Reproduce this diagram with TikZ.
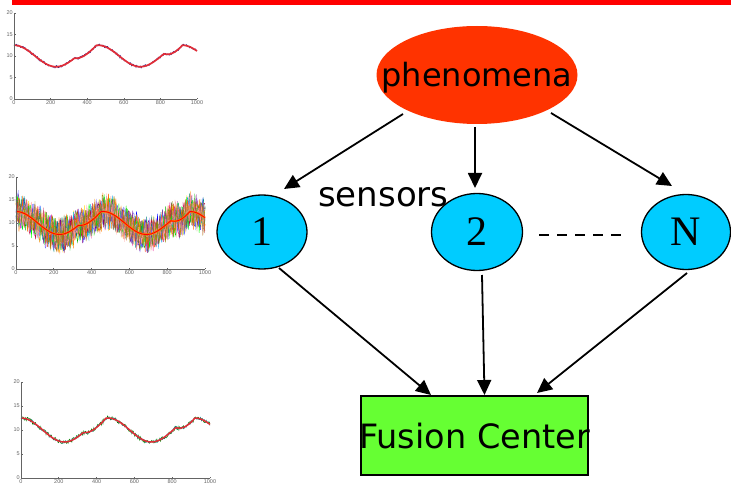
\documentclass[tikz,border=0pt]{standalone}
\usepackage{fontspec}
\setmainfont{Liberation Serif}
\newfontfamily\comicf{DejaVu Sans}
\newfontfamily\tickf{Liberation Sans}
\usetikzlibrary{shapes.geometric,arrows.meta}
\definecolor{phenred}{HTML}{FF3300}
\definecolor{sensorcyan}{HTML}{00CCFF}
\definecolor{fusiongreen}{HTML}{66FF33}
\definecolor{barred}{HTML}{FF0000}
\definecolor{curvered}{RGB}{225,45,55}
\definecolor{axgray}{RGB}{100,100,100}
\newcommand\plotframe[6]{%
  \begin{scope}[shift={(#1,#2)},x=#3pt,y=#4pt]
    #6
    \draw[ax] (0,20) -- (0,0) -- (1000,0);
    \foreach \v in {0,5,10,15,20}{\draw[ax] (0,\v) -- (12,\v); \node[tk,left] (#5y\v) at (0,\v) {\v};}
    \foreach \t in {0,200,400,600,800,1000}{\draw[ax] (\t,0) -- (\t,0.3); \node[tk,below] (#5x\t) at (\t,0) {\t};}
  \end{scope}}
\begin{document}
\begin{tikzpicture}[x=1pt,y=-1pt,
  arr/.style={line width=1.8pt,-{Triangle[length=15pt,width=14pt]}},
  sensor/.style={ellipse,draw=black,line width=1.3pt,fill=sensorcyan,inner sep=0pt,
    font=\fontsize{42}{44}\selectfont,text height=28pt,text depth=0pt},
  phenbox/.style={ellipse,fill=phenred,minimum width=201pt,minimum height=98pt,inner sep=0pt,
    font=\comicf\fontsize{32}{36}\selectfont,text height=24pt,text depth=0pt},
  fusionbox/.style={rectangle,draw=black,line width=1.3pt,fill=fusiongreen,minimum width=227pt,
    minimum height=79pt,inner sep=0pt,font=\comicf\fontsize{33.5}{36}\selectfont,text height=25pt,text depth=0pt},
  ax/.style={axgray,line width=0.6pt},
  tk/.style={font=\tickf\fontsize{5.5}{6}\selectfont,text=axgray,inner sep=1pt},
  declare function={fb(\t)=10+2.5*cos(0.78261*\t)-1.2*max(0,1-((\t-390)/60)^2)-1.2*max(0,1-((\t-870)/50)^2);}
]
\useasboundingbox (0,0) rectangle (731,489);
\fill[barred] (12,0) rectangle (731,5);
\pgfmathsetseed{7}
% plot 1
\plotframe{14}{99}{0.183}{4.3}{pa}{%
  \draw[blue!50!black,line width=0.5pt] plot[domain=0:1000,samples=250] (\x,{fb(\x)+0.3*rand});
  \draw[curvered,line width=1.7pt] plot[domain=0:1000,samples=150,smooth] (\x,{fb(\x)});
}
% plot 2
\plotframe{16}{269}{0.189}{4.6}{pb}{%
  \foreach \c in {blue,green!70!black,magenta,yellow!80!orange,cyan,violet,orange,teal,purple,green,blue!60!white,red!60!yellow,olive,pink!80!red}{
    \draw[color=\c,line width=0.3pt] plot[domain=0:1000,samples=260] (\x,{fb(\x)+3.3*rand+1.2*rand});
  }
  \draw[orange,line width=2pt] plot[domain=0:1000,samples=150,smooth] (\x,{fb(\x)});
  \draw[red,line width=0.9pt] plot[domain=0:1000,samples=150,smooth] (\x,{fb(\x)});
}
% plot 3
\plotframe{21}{478}{0.189}{4.8}{pc}{%
  \draw[green!50!black,line width=0.5pt] plot[domain=0:1000,samples=250] (\x,{fb(\x)+0.45*rand});
  \draw[teal,line width=0.4pt] plot[domain=0:1000,samples=200] (\x,{fb(\x)+0.35*rand});
  \draw[curvered,line width=1.5pt] plot[domain=0:1000,samples=150,smooth] (\x,{fb(\x)});
}
% diagram
\node[phenbox] (phen) at (477,75) {\makebox[0pt]{phenomena}};
\node[sensor,minimum width=90pt,minimum height=74pt] (s1) at (262,232) {1};
\node[sensor,minimum width=91pt,minimum height=77pt] (s2) at (477,232) {2};
\node[sensor,minimum width=89pt,minimum height=75pt] (sN) at (686,232) {N};
\node[fusionbox] (fc) at (474.5,435.5) {\makebox[0pt]{Fusion Center}};
\node[anchor=base west,font=\comicf\fontsize{34}{36}\selectfont,inner sep=0pt] (lbl) at (318,207) {sensors};
\draw[arr] ([shift={(-74,39)}]phen.center) -- ([shift={(22,-43)}]s1.center);
\draw[arr] ([shift={(-2,52)}]phen.center) -- ([shift={(-2,-44)}]s2.center);
\draw[arr] ([shift={(74,38)}]phen.center) -- ([shift={(-14,-46)}]sN.center);
\draw[arr] ([shift={(17,36)}]s1.center) -- ([shift={(-43.5,-40.5)}]fc.center);
\draw[arr] ([shift={(5,43)}]s2.center) -- ([shift={(10,-40.5)}]fc.center);
\draw[arr] ([shift={(1,41)}]sN.center) -- ([shift={(62.5,-42.5)}]fc.center);
\draw[line width=2pt,dash pattern=on 10pt off 8pt] ([shift={(62,3)}]s2.center) -- ([shift={(-65,3)}]sN.center);
\end{tikzpicture}
\end{document}
